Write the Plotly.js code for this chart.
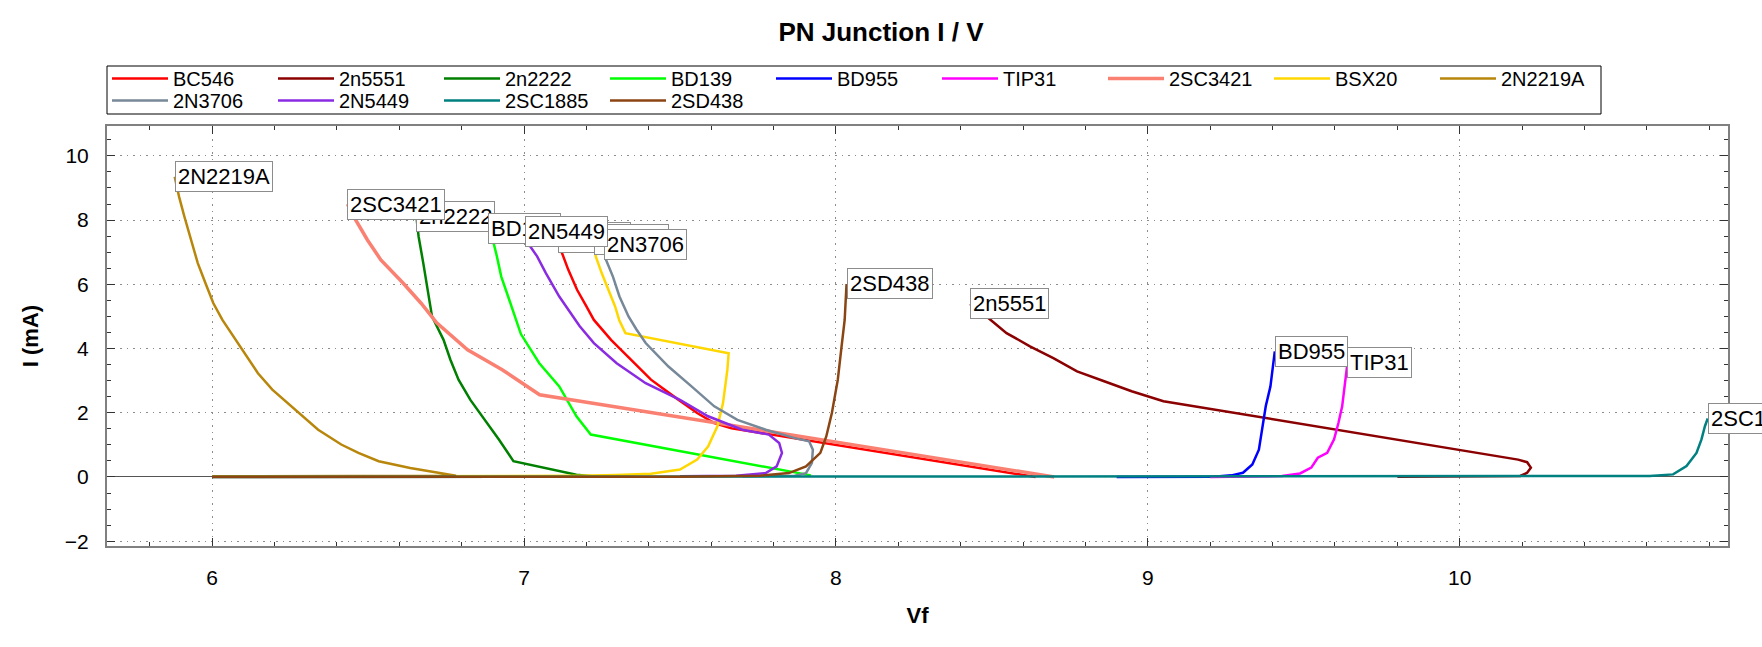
<!DOCTYPE html>
<html>
<head>
<meta charset="utf-8">
<script src="https://cdn.plot.ly/plotly-3.0.1.min.js"></script>
<style>
  body { margin: 0; background: #fff; }
  #chart { width: 1762px; height: 647px; }
</style>
</head>
<body>
<div id="chart"></div>
<script>
// series names in legend order
var names = ["BC546", "2n5551", "2n2222", "BD139", "BD955", "TIP31", "2SC3421", "BSX20",
             "2N2219A", "2N3706", "2N5449", "2SC1885", "2SD438"];
var colors = ["#ff0000", "#8b0000", "#008000", "#00ff00", "#0000ff", "#ff00ff", "#fa8072", "#ffd700",
              "#b8860b", "#778899", "#8a2be2", "#008080", "#8b4513"];

// Vf (V) and I (mA), from the labelled end down to the baseline
var bc546V = [7.11, 7.12, 7.142, 7.17, 7.2, 7.224, 7.279, 7.334, 7.407, 7.48, 7.555, 7.61, 7.665, 8.64];
var bc546I = [7.45, 7.02, 6.45, 5.83, 5.31, 4.89, 4.27, 3.75, 3.03, 2.51, 1.99, 1.68, 1.52, 0.0];

var n5551V = [8.43, 8.48, 8.547, 8.622, 8.697, 8.773, 8.86, 8.948, 9.05, 10.187, 10.216, 10.228, 10.216, 10.194, 9.8];
var n5551I = [5.39, 5.02, 4.48, 4.07, 3.7, 3.29, 2.98, 2.67, 2.36, 0.54, 0.46, 0.29, 0.13, 0.03, 0.01];

var n2222V = [6.655, 6.662, 6.677, 6.691, 6.705, 6.72, 6.742, 6.764, 6.79, 6.828, 6.874, 6.92, 6.966, 7.04, 7.113, 7.168, 7.22];
var n2222I = [8.11, 7.49, 6.66, 5.83, 5.0, 4.7, 4.27, 3.65, 3.03, 2.4, 1.78, 1.16, 0.49, 0.33, 0.18, 0.07, 0.02];

var bd139V = [6.884, 6.9, 6.913, 6.927, 6.949, 6.97, 6.99, 7.049, 7.113, 7.168, 7.214, 7.92];
var bd139I = [7.75, 7.38, 6.87, 6.24, 5.62, 5.0, 4.45, 3.54, 2.82, 1.89, 1.32, 0.05];

var bd955V = [9.407, 9.4, 9.393, 9.378, 9.37, 9.356, 9.335, 9.305, 9.268, 9.21, 8.9];
var bd955I = [3.91, 3.44, 2.82, 2.2, 1.68, 0.85, 0.39, 0.13, 0.05, 0.01, 0.0];

var tip31V = [9.64, 9.633, 9.623, 9.611, 9.597, 9.575, 9.545, 9.524, 9.488, 9.43, 9.2];
var tip31I = [3.55, 3.03, 2.2, 1.68, 1.17, 0.75, 0.6, 0.29, 0.11, 0.03, 0.0];

var sc3421V = [6.434, 6.455, 6.498, 6.541, 6.612, 6.67, 6.72, 6.819, 6.93, 7.05, 8.7];
var sc3421I = [8.5, 8.09, 7.38, 6.76, 6.04, 5.41, 4.8, 3.96, 3.34, 2.56, 0.0];

var bsx20V = [7.224, 7.23, 7.249, 7.27, 7.292, 7.305, 7.325, 7.656, 7.652, 7.638, 7.62, 7.59, 7.555, 7.5, 7.407, 7.297, 7.17, 6.6];
var bsx20I = [7.38, 6.87, 6.35, 5.83, 5.31, 4.89, 4.48, 3.85, 3.34, 2.3, 1.58, 0.95, 0.54, 0.23, 0.1, 0.06, 0.04, 0.02];

var n2219aV = [5.88, 5.894, 5.911, 5.933, 5.954, 5.98, 6.004, 6.033, 6.064, 6.101, 6.147, 6.193, 6.248, 6.285, 6.34,
               6.414, 6.469, 6.534, 6.635, 6.782, 6.5, 6.0];
var n2219aI = [9.35, 8.73, 8.11, 7.38, 6.66, 6.0, 5.41, 4.89, 4.43, 3.91, 3.23, 2.72, 2.25, 1.94, 1.47,
               1.01, 0.75, 0.49, 0.28, 0.04, 0.03, 0.02];

var n3706V = [7.256, 7.263, 7.285, 7.306, 7.335, 7.36, 7.39, 7.463, 7.537, 7.61, 7.684, 7.775, 7.868, 7.914, 7.926, 7.923, 7.904, 7.868, 7.7];
var n3706I = [7.23, 6.76, 6.24, 5.62, 5.0, 4.6, 4.17, 3.44, 2.82, 2.2, 1.78, 1.47, 1.21, 1.11, 0.85, 0.44, 0.12, 0.04, 0.02];

var n5449V = [7.003, 7.015, 7.042, 7.07, 7.113, 7.156, 7.178, 7.224, 7.297, 7.39, 7.5, 7.59, 7.7, 7.785, 7.818, 7.827, 7.81, 7.775, 7.68, 7.5];
var n5449I = [7.63, 7.25, 6.87, 6.35, 5.62, 5.0, 4.7, 4.17, 3.54, 2.92, 2.4, 1.89, 1.47, 1.32, 1.06, 0.75, 0.33, 0.12, 0.04, 0.02];

var sc1885V = [6.0, 10.609, 10.684, 10.727, 10.759, 10.775, 10.786, 10.795];
var sc1885I = [0.0, 0.03, 0.08, 0.34, 0.75, 1.17, 1.58, 1.82];

var sd438V = [8.034, 8.031, 8.028, 8.018, 8.006, 7.987, 7.969, 7.95, 7.904, 7.849, 7.757, 7.5, 6.0];
var sd438I = [6.01, 5.5, 4.89, 4.06, 3.03, 1.99, 1.26, 0.75, 0.33, 0.12, 0.04, 0.01, 0.0];

var seriesV = [bc546V, n5551V, n2222V, bd139V, bd955V, tip31V, sc3421V, bsx20V, n2219aV, n3706V, n5449V, sc1885V, sd438V];
var seriesI = [bc546I, n5551I, n2222I, bd139I, bd955I, tip31I, sc3421I, bsx20I, n2219aI, n3706I, n5449I, sc1885I, sd438I];

var xRange = [5.663, 10.86];
var yRange = [-2.15, 10.93];
var fontFamily = "Liberation Sans, Arial, sans-serif";
var perRow = 9;   // legend entries in the first row

var data = [];
var annotations = [];
for (var i = 0; i < names.length; i++) {
    data.push({
        x: seriesV[i],
        y: seriesI[i],
        type: "scatter",
        mode: "lines",
        name: names[i],
        legend: i < perRow ? "legend" : "legend2",
        line: { color: colors[i], width: names[i] === "2SC3421" ? 3.5 : 2.5 }
    });
    // label sits at the highest point of each curve
    var peak = 0;
    for (var k = 1; k < seriesI[i].length; k++) {
        if (seriesI[i][k] > seriesI[i][peak]) peak = k;
    }
    annotations.push({
        x: seriesV[i][peak],
        y: seriesI[i][peak],
        xref: "x",
        yref: "y",
        text: names[i],
        showarrow: false,
        xanchor: "left",
        yanchor: "middle",
        bgcolor: "#ffffff",
        bordercolor: "#8c8c8c",
        borderwidth: 1,
        borderpad: 2,
        font: { size: 22, color: "#000" }
    });
}

function legendRow(yTop) {
    return {
        orientation: "h",
        x: 0, xanchor: "left",
        y: yTop, yanchor: "top",
        bgcolor: "rgba(0,0,0,0)",
        borderwidth: 0,
        font: { size: 20, color: "#000" },
        itemwidth: 56,
        entrywidth: 95,
        entrywidthmode: "pixels",
        traceorder: "normal"
    };
}

var layout = {
    width: 1762,
    height: 647,
    autosize: false,
    margin: { l: 107, r: 34, t: 126, b: 101 },
    paper_bgcolor: "#ffffff",
    plot_bgcolor: "#ffffff",
    font: { family: fontFamily, color: "#000" },
    title: {
        text: "PN Junction I / V",
        font: { size: 26, weight: "bold", color: "#000" },
        x: 0.5, xref: "container",
        y: 1 - 32 / 647, yref: "container", yanchor: "middle"
    },
    showlegend: true,
    legend: legendRow(1 + 67 / 420),
    legend2: legendRow(1 + 45 / 420),
    shapes: [{
        type: "rect", xref: "paper", yref: "paper",
        x0: 0, x1: 1494 / 1621, y0: 1 + 12 / 420, y1: 1 + 60 / 420,
        line: { color: "#000", width: 1 }, fillcolor: "rgba(0,0,0,0)"
    }],
    xaxis: {
        range: xRange, autorange: false,
        tick0: 0, dtick: 1,
        ticks: "inside", ticklen: 8, tickcolor: "#333",
        mirror: "ticks", showline: true, linecolor: "#808080", linewidth: 2,
        showgrid: true, gridcolor: "#8c8c8c", gridwidth: 1, griddash: "1.5px,5px",
        zeroline: false,
        minor: { dtick: 0.2, ticks: "inside", ticklen: 4, tickcolor: "#333", showgrid: false },
        tickfont: { size: 21 },
        ticklabelstandoff: 12,
        title: { text: "Vf", font: { size: 22, weight: "bold" }, standoff: 19 }
    },
    yaxis: {
        range: yRange, autorange: false,
        tick0: 0, dtick: 2,
        ticks: "inside", ticklen: 8, tickcolor: "#333",
        mirror: "ticks", showline: true, linecolor: "#808080", linewidth: 2,
        showgrid: true, gridcolor: "#8c8c8c", gridwidth: 1, griddash: "1.5px,5px",
        zeroline: true, zerolinecolor: "#555", zerolinewidth: 1,
        minor: { dtick: 0.5, ticks: "inside", ticklen: 4, tickcolor: "#333", showgrid: false },
        tickfont: { size: 21 },
        ticklabelstandoff: 12,
        title: { text: "I (mA)", font: { size: 22, weight: "bold" }, standoff: 20 }
    },
    // empty overlay axes only draw the outer half of the crossing ticks
    xaxis2: {
        overlaying: "x", anchor: "y", side: "bottom",
        range: xRange, autorange: false,
        tick0: 0, dtick: 1,
        ticks: "outside", ticklen: 8, tickcolor: "#333",
        showticklabels: false, showgrid: false, zeroline: false, showline: false,
        minor: { dtick: 0.2, ticks: "outside", ticklen: 4, tickcolor: "#333", showgrid: false }
    },
    yaxis2: {
        overlaying: "y", anchor: "x", side: "left",
        range: yRange, autorange: false,
        tick0: 0, dtick: 2,
        ticks: "outside", ticklen: 8, tickcolor: "#333",
        showticklabels: false, showgrid: false, zeroline: false, showline: false,
        minor: { dtick: 0.5, ticks: "outside", ticklen: 4, tickcolor: "#333", showgrid: false }
    },
    annotations: annotations
};

Plotly.newPlot("chart", data, layout, { staticPlot: true });
</script>
</body>
</html>
